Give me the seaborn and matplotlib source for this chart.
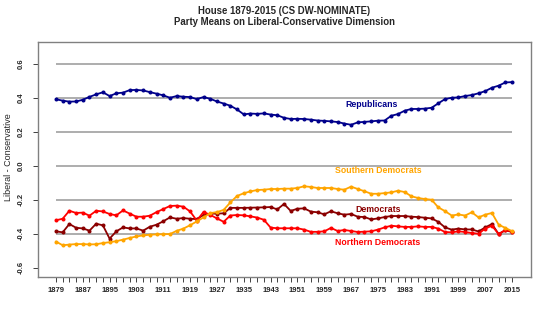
import numpy as np
import pandas as pd
import matplotlib
matplotlib.use("Agg")
import matplotlib.pyplot as plt
import seaborn as sns

# ---------------- data ----------------
years = list(range(1879, 2016, 2))

republicans = [
    0.391, 0.383, 0.377, 0.378, 0.388, 0.405, 0.420, 0.432, 0.410, 0.426,
    0.430, 0.445, 0.446, 0.443, 0.433, 0.424, 0.414, 0.400, 0.410, 0.406,
    0.404, 0.392, 0.404, 0.394, 0.378, 0.366, 0.353, 0.331, 0.302, 0.307,
    0.305, 0.308, 0.301, 0.297, 0.282, 0.275, 0.276, 0.275, 0.271, 0.266,
    0.264, 0.261, 0.257, 0.248, 0.241, 0.255, 0.258, 0.261, 0.265, 0.266,
    0.294, 0.304, 0.324, 0.334, 0.334, 0.336, 0.341, 0.367, 0.392, 0.400,
    0.402, 0.410, 0.416, 0.426, 0.439, 0.459, 0.471, 0.490, 0.492,
]

southern_dems = [
    -0.446, -0.468, -0.464, -0.461, -0.461, -0.463, -0.462, -0.455, -0.450, -0.444,
    -0.435, -0.425, -0.416, -0.410, -0.406, -0.404, -0.403, -0.402, -0.383, -0.370,
    -0.350, -0.328, -0.304, -0.279, -0.273, -0.260, -0.216, -0.178, -0.162, -0.151,
    -0.143, -0.141, -0.137, -0.137, -0.135, -0.135, -0.131, -0.121, -0.125, -0.131,
    -0.131, -0.131, -0.137, -0.141, -0.123, -0.137, -0.150, -0.165, -0.165, -0.161,
    -0.157, -0.147, -0.155, -0.180, -0.190, -0.196, -0.200, -0.245, -0.267, -0.293,
    -0.287, -0.293, -0.274, -0.304, -0.288, -0.278, -0.347, -0.366, -0.385,
]

democrats = [
    -0.386, -0.392, -0.343, -0.365, -0.369, -0.382, -0.341, -0.351, -0.429, -0.386,
    -0.363, -0.369, -0.369, -0.382, -0.359, -0.347, -0.327, -0.304, -0.312, -0.308,
    -0.312, -0.314, -0.290, -0.282, -0.282, -0.280, -0.248, -0.248, -0.248, -0.247,
    -0.246, -0.245, -0.243, -0.257, -0.225, -0.266, -0.253, -0.251, -0.270, -0.274,
    -0.286, -0.268, -0.280, -0.288, -0.284, -0.300, -0.302, -0.316, -0.310, -0.302,
    -0.296, -0.296, -0.296, -0.300, -0.302, -0.306, -0.310, -0.330, -0.363, -0.376,
    -0.370, -0.375, -0.375, -0.387, -0.363, -0.343, -0.402, -0.380, -0.390,
]

northern_dems = [
    -0.321, -0.312, -0.265, -0.278, -0.276, -0.294, -0.265, -0.269, -0.284, -0.292,
    -0.263, -0.282, -0.300, -0.300, -0.294, -0.273, -0.255, -0.237, -0.235, -0.241,
    -0.269, -0.323, -0.272, -0.289, -0.310, -0.330, -0.293, -0.290, -0.292, -0.298,
    -0.305, -0.318, -0.364, -0.368, -0.368, -0.368, -0.368, -0.376, -0.389, -0.389,
    -0.386, -0.366, -0.384, -0.378, -0.384, -0.390, -0.388, -0.386, -0.376, -0.363,
    -0.353, -0.357, -0.360, -0.360, -0.357, -0.360, -0.360, -0.370, -0.390, -0.392,
    -0.386, -0.390, -0.396, -0.400, -0.370, -0.353, -0.402, -0.378, -0.388,
]

series_names = ["Republicans", "Democrats", "Northern Democrats", "Southern Democrats"]
series_colors = ["#00008B", "#8B0000", "#FF0000", "#FFA500"]
label_years = [1973, 1975, 1975, 1975]
label_values = [0.363, -0.255, -0.453, -0.030]

y_ticks = [-0.6, -0.4, -0.2, 0.0, 0.2, 0.4, 0.6]
y_tick_labels = ["-0.6", "-0.4", "-0.2", "0.0", "0.2", "0.4", "0.6"]
grid_values = [-0.4, -0.2, 0.0, 0.2, 0.4, 0.6]

title_line1 = "House 1879-2015 (CS DW-NOMINATE)"
title_line2 = "Party Means on Liberal-Conservative Dimension"
y_label = "Liberal - Conservative"

# ---------------- build table ----------------
df = pd.concat([
    pd.DataFrame({"year": years, "value": republicans, "party": "Republicans"}),
    pd.DataFrame({"year": years, "value": democrats, "party": "Democrats"}),
    pd.DataFrame({"year": years, "value": northern_dems, "party": "Northern Democrats"}),
    pd.DataFrame({"year": years, "value": southern_dems, "party": "Southern Democrats"}),
], ignore_index=True)

sns.set_style("white")
plt.rcParams["font.family"] = ["Liberation Sans", "DejaVu Sans"]

W, H = 550, 324
fig = plt.figure(figsize=(W / 100, H / 100), dpi=100)
ax_l, ax_r, ax_t, ax_b = 37.5, 530.5, 42.0, 276.7
ax = fig.add_axes([ax_l / W, 1 - ax_b / H, (ax_r - ax_l) / W, (ax_b - ax_t) / H])

# grid lines spanning first to last congress
ax.hlines(grid_values, years[0], years[-1], colors="#A0A0A0", linewidth=1.2, zorder=1)

palette = dict(zip(series_names, series_colors))
sns.lineplot(data=df, x="year", y="value", hue="party", hue_order=series_names,
             palette=palette, marker="o", markersize=2.9, markeredgewidth=0,
             linewidth=1.3, legend=False, errorbar=None, ax=ax, zorder=3)

for name, c, yr, v in zip(series_names, series_colors, label_years, label_values):
    ax.text(yr, v, name, color=c, ha="center", va="center",
            fontsize=6.3, fontweight="bold")

ax.set_xlim(1873.5, 2020.5)
ax.set_ylim(-0.653, 0.728)

ax.set_xticks(years)
ax.set_xticklabels([str(y) if (y - 1879) % 8 == 0 else "" for y in years],
                   fontsize=5.5, fontweight="bold")
ax.set_yticks(y_ticks)
ax.set_yticklabels(y_tick_labels, fontsize=5.5, fontweight="bold",
                   rotation=90, va="center")
ax.tick_params(axis="x", direction="out", length=3.8, width=0.7, color="#404040",
               pad=3.6, bottom=True)
ax.tick_params(axis="y", direction="out", length=3.8, width=0.7, color="#404040",
               pad=5.5, left=True)
ax.set_xlabel("")
ax.set_ylabel("")

for sp in ax.spines.values():
    sp.set_color("#808080")
    sp.set_linewidth(1.0)

fig.text(9 / W, 1 - 157 / H, y_label, rotation=90, ha="center", va="center",
         fontsize=6.5)
mid_x = (ax_l + ax_r) / 2 / W
fig.text(mid_x, 1 - 10.5 / H, title_line1, ha="center", va="center",
         fontsize=6.9, fontweight="bold")
fig.text(mid_x, 1 - 22 / H, title_line2, ha="center", va="center",
         fontsize=6.9, fontweight="bold")

fig.savefig("out.png", dpi=100, facecolor="white")
